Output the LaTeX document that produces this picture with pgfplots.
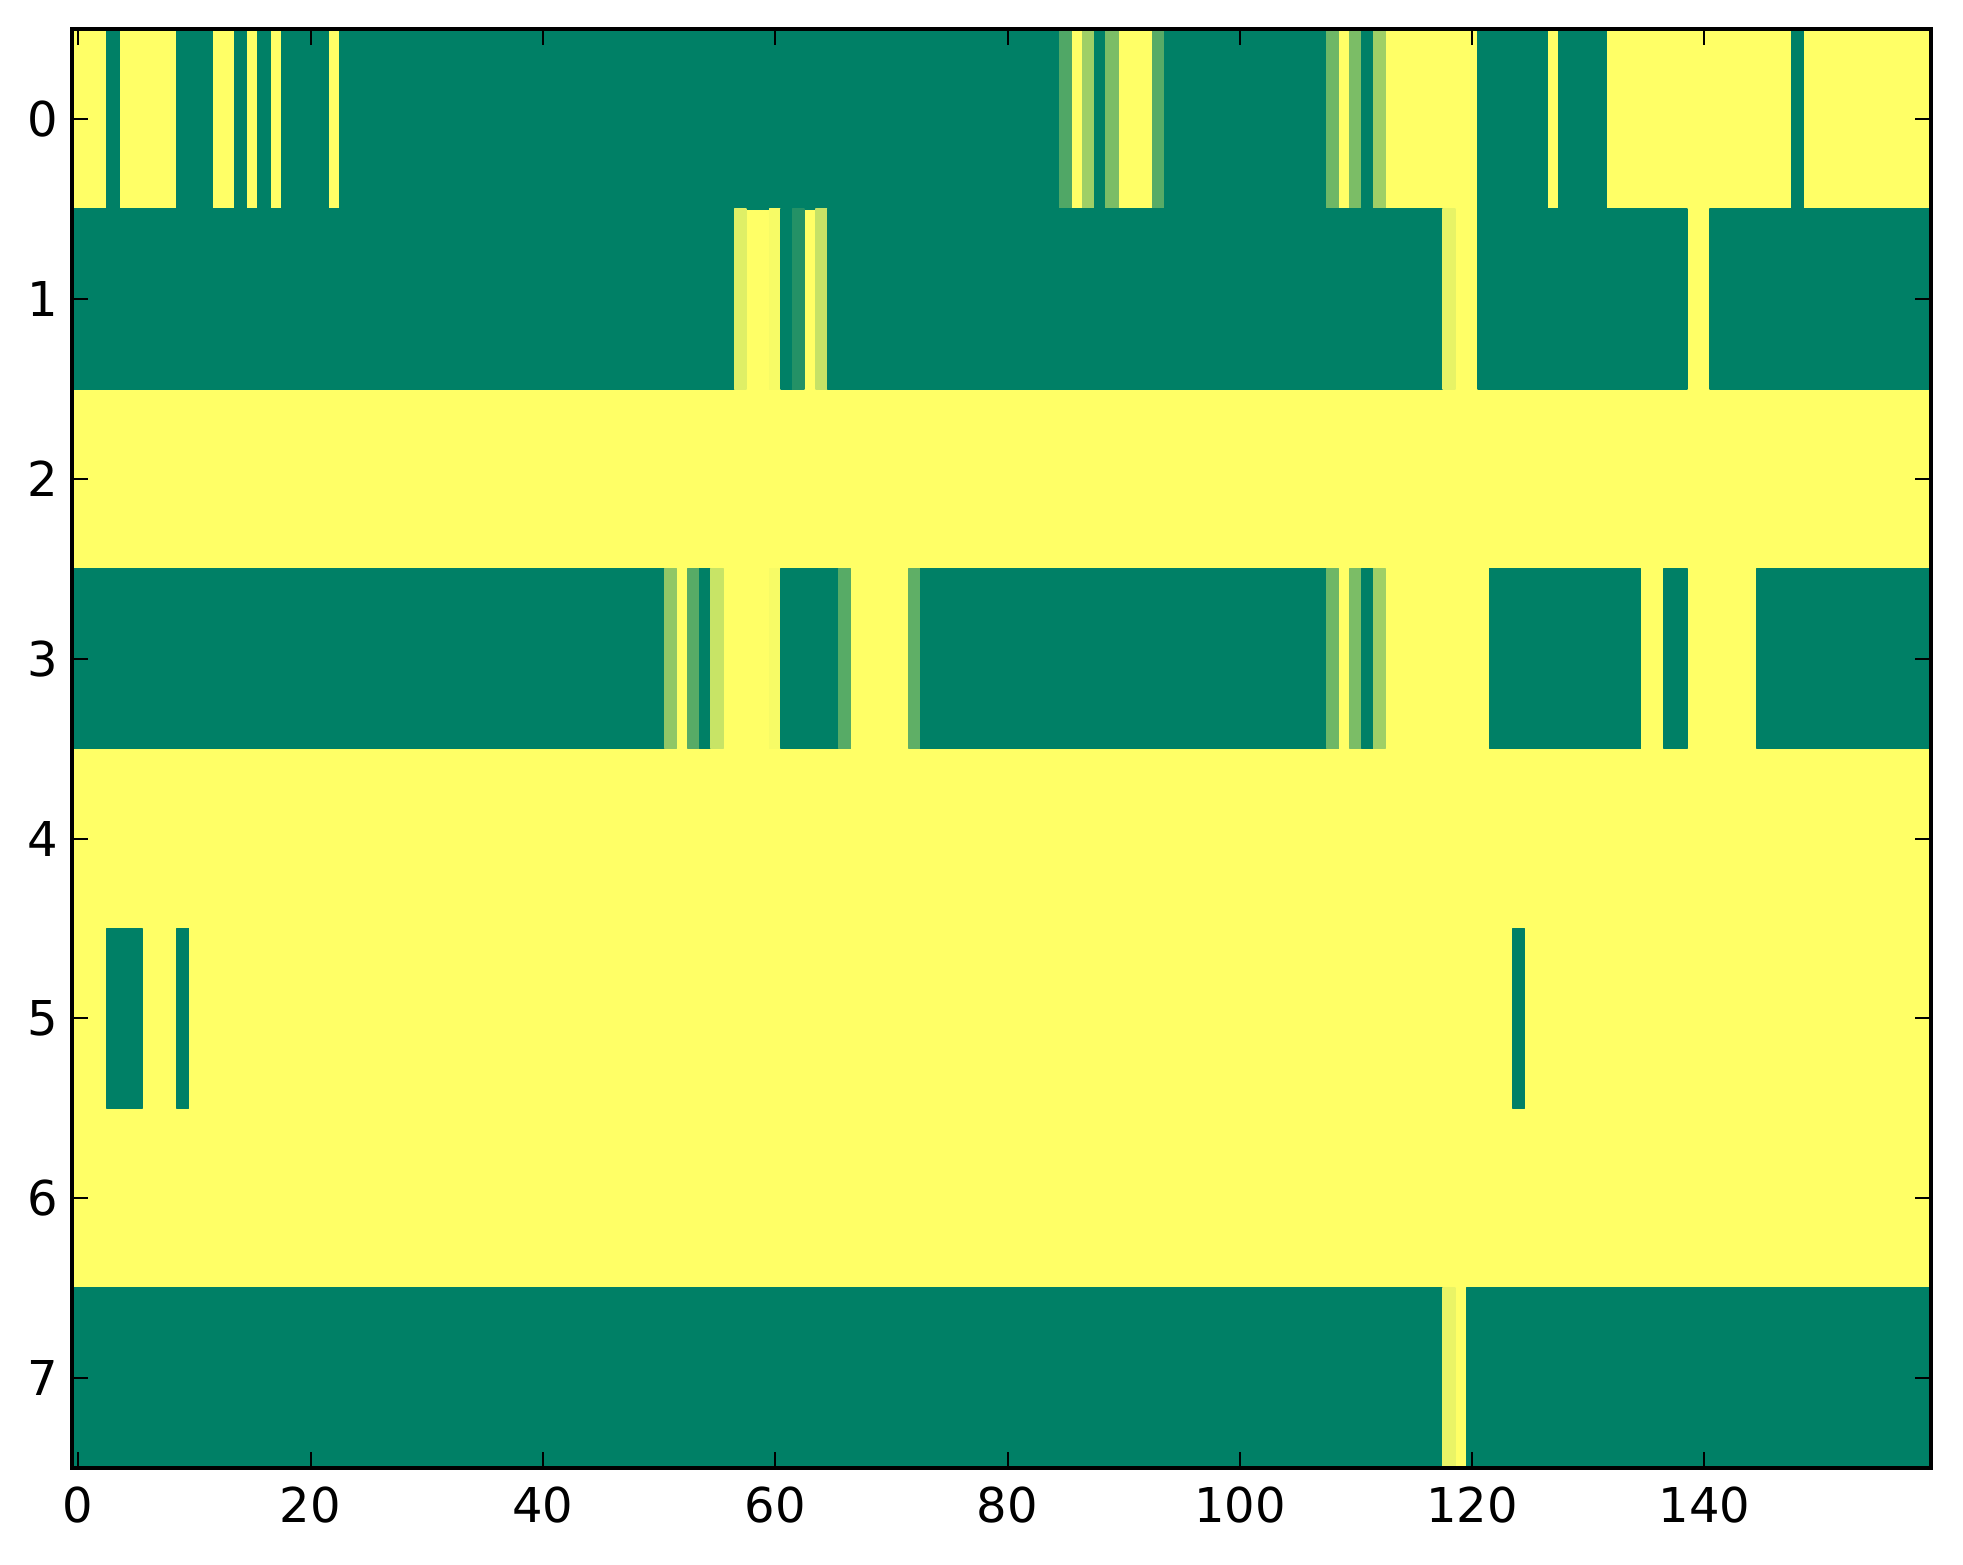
\documentclass[border=0pt]{standalone}
\usepackage{fontspec}
\setmainfont{DejaVu Sans}
\usepackage{pgfplots}
\pgfplotsset{compat=1.18}
\begin{document}
\begin{tikzpicture}
\begin{axis}[
  name=ax,
  scale only axis,
  width=464.6pt, height=359.75pt,
  xmin=-0.5, xmax=159.5, ymin=-0.5, ymax=7.5,
  y dir=reverse,
  xtick={0,20,...,140}, ytick={0,1,...,7},
  minor tick num=0,
  tick align=inside,
  major tick length=4pt,
  tick style={line width=0.5pt, black},
  axis line style={line width=1pt},
  axis on top,
  tick label style={font=\fontsize{12}{14}\selectfont},
  xticklabel style={yshift=-1.25pt},
  /pgf/number format/assume math mode=true,
  colormap={summer}{rgb=(0,0.5,0.4) rgb=(1,1,0.4)},
  point meta min=0, point meta max=1,
]
\addplot[patch, patch type=rectangle, shader=flat, point meta=explicit] table[meta=c] {
x y c
-0.5 -0.5 1
159.5 -0.5 1
159.5 7.5 1
-0.5 7.5 1
2.5 -0.5 0
3.5 -0.5 0
3.5 0.5 0
2.5 0.5 0
8.5 -0.5 0
11.5 -0.5 0
11.5 0.5 0
8.5 0.5 0
13.5 -0.5 0
14.5 -0.5 0
14.5 0.5 0
13.5 0.5 0
15.5 -0.5 0
16.5 -0.5 0
16.5 0.5 0
15.5 0.5 0
17.5 -0.5 0
21.5 -0.5 0
21.5 0.5 0
17.5 0.5 0
22.5 -0.5 0
84.5 -0.5 0
84.5 0.5 0
22.5 0.5 0
84.5 -0.5 0.31
85.5 -0.5 0.31
85.5 0.5 0.31
84.5 0.5 0.31
86.5 -0.5 0.62
87.5 -0.5 0.62
87.5 0.5 0.62
86.5 0.5 0.62
87.5 -0.5 0
88.5 -0.5 0
88.5 0.5 0
87.5 0.5 0
88.5 -0.5 0.48
89.5 -0.5 0.48
89.5 0.5 0.48
88.5 0.5 0.48
92.5 -0.5 0.34
93.5 -0.5 0.34
93.5 0.5 0.34
92.5 0.5 0.34
93.5 -0.5 0
107.5 -0.5 0
107.5 0.5 0
93.5 0.5 0
107.5 -0.5 0.43
108.5 -0.5 0.43
108.5 0.5 0.43
107.5 0.5 0.43
109.5 -0.5 0.48
110.5 -0.5 0.48
110.5 0.5 0.48
109.5 0.5 0.48
110.5 -0.5 0
111.5 -0.5 0
111.5 0.5 0
110.5 0.5 0
111.5 -0.5 0.62
112.5 -0.5 0.62
112.5 0.5 0.62
111.5 0.5 0.62
120.5 -0.5 0
126.5 -0.5 0
126.5 0.5 0
120.5 0.5 0
127.5 -0.5 0
131.5 -0.5 0
131.5 0.5 0
127.5 0.5 0
147.5 -0.5 0
148.5 -0.5 0
148.5 0.5 0
147.5 0.5 0
-0.5 0.5 0
56.5 0.5 0
56.5 1.5 0
-0.5 1.5 0
56.5 0.5 0.87
57.5 0.5 0.87
57.5 1.5 0.87
56.5 1.5 0.87
59.5 0.5 0.96
60.5 0.5 0.96
60.5 1.5 0.96
59.5 1.5 0.96
60.5 0.5 0
61.5 0.5 0
61.5 1.5 0
60.5 1.5 0
61.5 0.5 0.14
62.5 0.5 0.14
62.5 1.5 0.14
61.5 1.5 0.14
63.5 0.5 0.77
64.5 0.5 0.77
64.5 1.5 0.77
63.5 1.5 0.77
64.5 0.5 0
117.5 0.5 0
117.5 1.5 0
64.5 1.5 0
117.5 0.5 0.90
118.5 0.5 0.90
118.5 1.5 0.90
117.5 1.5 0.90
120.5 0.5 0
138.5 0.5 0
138.5 1.5 0
120.5 1.5 0
140.5 0.5 0
159.5 0.5 0
159.5 1.5 0
140.5 1.5 0
-0.5 2.5 0
50.5 2.5 0
50.5 3.5 0
-0.5 3.5 0
50.5 2.5 0.56
51.5 2.5 0.56
51.5 3.5 0.56
50.5 3.5 0.56
52.5 2.5 0.34
53.5 2.5 0.34
53.5 3.5 0.34
52.5 3.5 0.34
53.5 2.5 0
54.5 2.5 0
54.5 3.5 0
53.5 3.5 0
54.5 2.5 0.78
55.5 2.5 0.78
55.5 3.5 0.78
54.5 3.5 0.78
59.5 2.5 0.96
60.5 2.5 0.96
60.5 3.5 0.96
59.5 3.5 0.96
60.5 2.5 0
65.5 2.5 0
65.5 3.5 0
60.5 3.5 0
65.5 2.5 0.34
66.5 2.5 0.34
66.5 3.5 0.34
65.5 3.5 0.34
71.5 2.5 0.37
72.5 2.5 0.37
72.5 3.5 0.37
71.5 3.5 0.37
72.5 2.5 0
107.5 2.5 0
107.5 3.5 0
72.5 3.5 0
107.5 2.5 0.43
108.5 2.5 0.43
108.5 3.5 0.43
107.5 3.5 0.43
109.5 2.5 0.48
110.5 2.5 0.48
110.5 3.5 0.48
109.5 3.5 0.48
110.5 2.5 0
111.5 2.5 0
111.5 3.5 0
110.5 3.5 0
111.5 2.5 0.62
112.5 2.5 0.62
112.5 3.5 0.62
111.5 3.5 0.62
121.5 2.5 0
134.5 2.5 0
134.5 3.5 0
121.5 3.5 0
136.5 2.5 0
138.5 2.5 0
138.5 3.5 0
136.5 3.5 0
144.5 2.5 0
159.5 2.5 0
159.5 3.5 0
144.5 3.5 0
2.5 4.5 0
5.5 4.5 0
5.5 5.5 0
2.5 5.5 0
8.5 4.5 0
9.5 4.5 0
9.5 5.5 0
8.5 5.5 0
123.5 4.5 0
124.5 4.5 0
124.5 5.5 0
123.5 5.5 0
-0.5 6.5 0
117.5 6.5 0
117.5 7.5 0
-0.5 7.5 0
117.5 6.5 0.91
118.5 6.5 0.91
118.5 7.5 0.91
117.5 7.5 0.91
119.5 6.5 0
159.5 6.5 0
159.5 7.5 0
119.5 7.5 0
};
\end{axis}
\pgfresetboundingbox
\path[use as bounding box] ([xshift=-18.1pt,yshift=-24pt]ax.south west) rectangle ([xshift=8pt,yshift=7.25pt]ax.north east);
\end{tikzpicture}
\end{document}
